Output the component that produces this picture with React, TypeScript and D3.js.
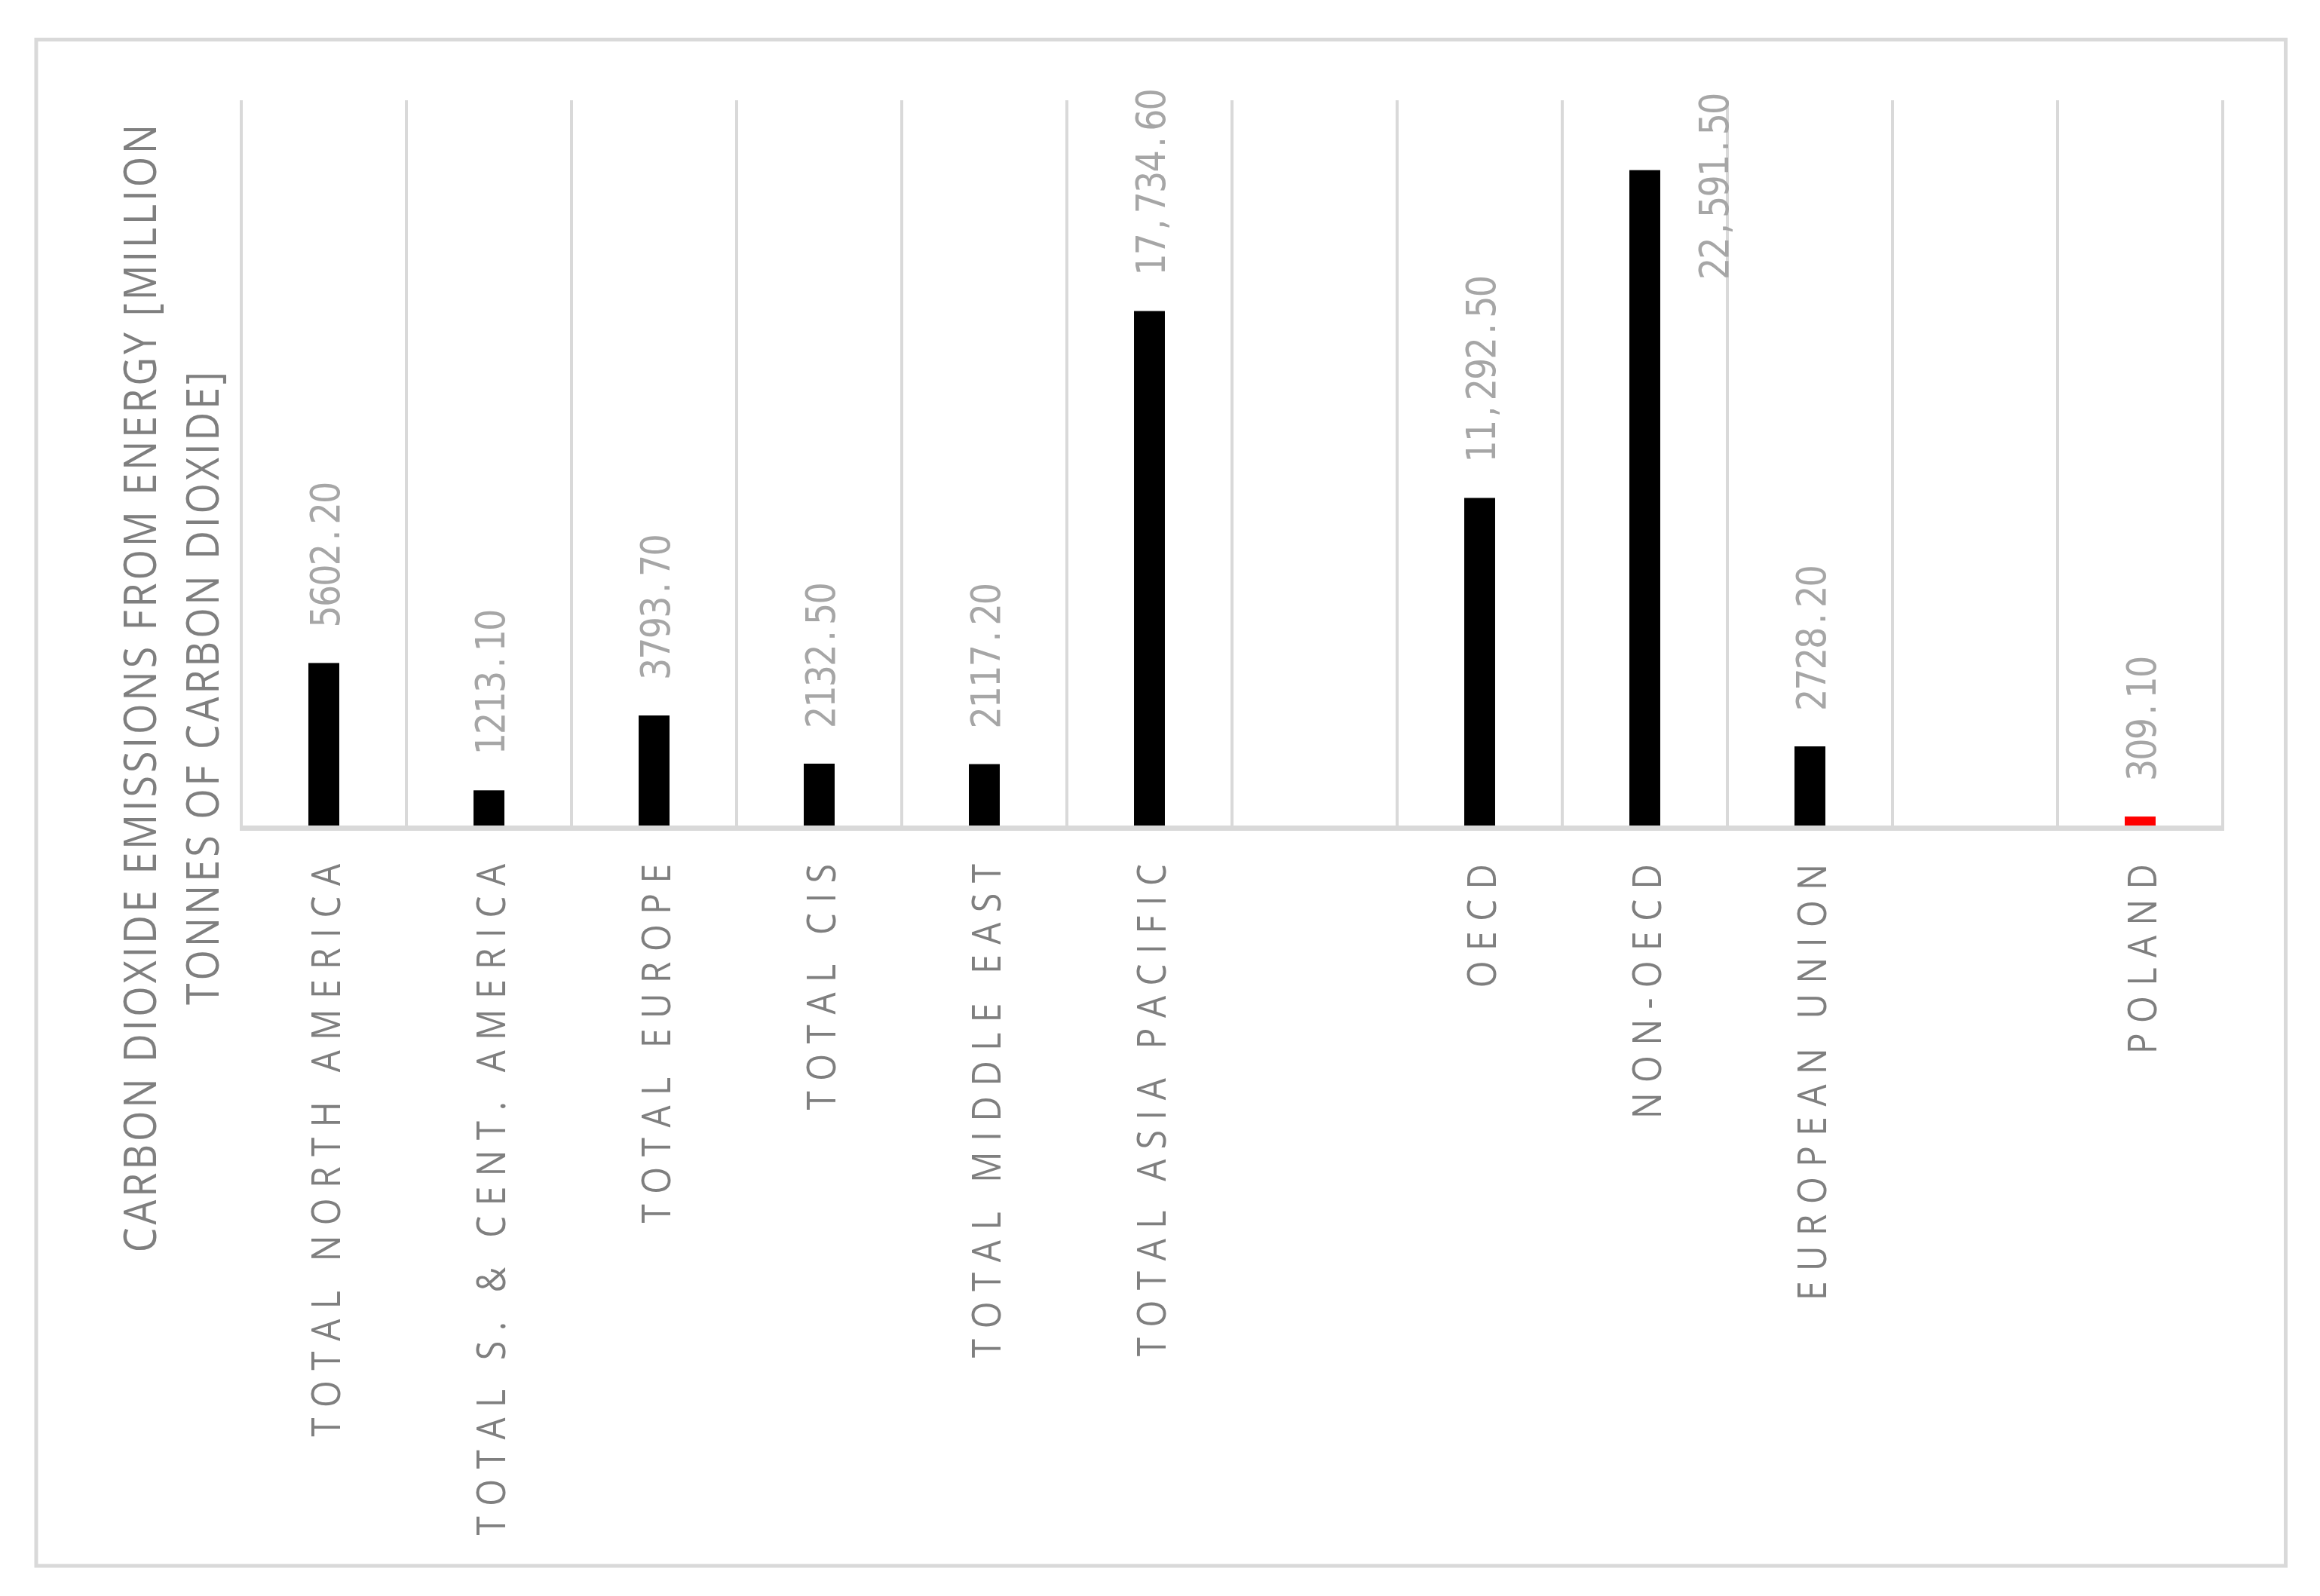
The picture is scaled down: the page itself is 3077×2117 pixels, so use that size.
import React from "react";
import * as d3 from "d3";

const categories = [
  "TOTAL NORTH AMERICA",
  "TOTAL S. & CENT. AMERICA",
  "TOTAL EUROPE",
  "TOTAL CIS",
  "TOTAL MIDDLE EAST",
  "TOTAL ASIA PACIFIC",
  "",
  "OECD",
  "NON-OECD",
  "EUROPEAN UNION",
  "",
  "POLAND",
];
const values: (number | null)[] = [5602.2, 1213.1, 3793.7, 2132.5, 2117.2, 17734.6, null, 11292.5, 22591.5, 2728.2, null, 309.1];
const valueLabels = ["5602.20", "1213.10", "3793.70", "2132.50", "2117.20", "17,734.60", "", "11,292.50", "22,591.50", "2728.20", "", "309.10"];
const highlight = [false, false, false, false, false, false, false, false, false, false, false, true];
const titleLines = ["CARBON DIOXIDE EMISSIONS FROM ENERGY [MILLION", "TONNES OF CARBON DIOXIDE]"];
const yDomain = [0, 25000];

const W = 3077;
const H = 2117;
const SX = 1.15; // horizontal stretch of text glyphs
const plot = { left: 320, right: 2948, top: 133, bottom: 1095 };
const GRID = "#d9d9d9";

export default function App() {
  const x = d3
    .scaleBand<string>()
    .domain(categories.map((_, i) => String(i)))
    .range([plot.left, plot.right])
    .paddingInner(0)
    .paddingOuter(0);
  const y = d3.scaleLinear().domain(yDomain).range([plot.bottom, plot.top]);
  const bw = x.bandwidth();
  const barW = bw * 0.187;
  const labelFs = 46;
  const labelAdv = 27.4;
  const gap = 47;
  const catFs = 46;
  const catLs = 13.5;
  const titleFs = 52;
  const titleLs = 4;

  const rot = (px: number, py: number, s = SX) => `translate(${px},${py}) scale(${s},1) rotate(-90)`;

  const monoText = (key: string, str: string, px: number, py: number, endAnchored: boolean) => {
    const chars = str.split("");
    const len = (chars.length - 1) * labelAdv + labelFs * 0.52;
    const off = endAnchored ? -len : 0;
    return (
      <text key={key} transform={rot(px, py)} fontFamily="DejaVu Sans" fontSize={labelFs} fill="#a6a6a6">
        {chars.map((ch, j) => {
          const narrow = ch === "." || ch === ",";
          return (
            <tspan key={j} x={off + j * labelAdv + (narrow ? labelFs * 0.12 : 0)} y={0}>
              {ch}
            </tspan>
          );
        })}
      </text>
    );
  };

  return (
    <svg width={W} height={H} style={{ position: "absolute", left: 0, top: 0, background: "#fff" }}>
      <rect x={0} y={0} width={W} height={H} fill="#fff" />
      <rect x={48} y={52.5} width={2983.5} height={2024.5} fill="none" stroke={GRID} strokeWidth={5} />
      {d3.range(categories.length + 1).map((i) => {
        const gx = plot.left + i * bw;
        return <line key={"g" + i} x1={gx} x2={gx} y1={plot.top} y2={plot.bottom} stroke={GRID} strokeWidth={4} />;
      })}
      {values.map((v, i) =>
        v == null ? null : (
          <rect
            key={"b" + i}
            x={(x(String(i)) as number) + bw / 2 - barW / 2}
            y={y(v)}
            width={barW}
            height={y(0) - y(v)}
            fill={highlight[i] ? "#ff0000" : "#000000"}
          />
        )
      )}
      <line x1={plot.left - 2} x2={plot.right + 2} y1={plot.bottom + 3.5} y2={plot.bottom + 3.5} stroke={GRID} strokeWidth={7} />
      {values.map((v, i) => {
        if (v == null) return null;
        const cx = (x(String(i)) as number) + bw / 2;
        const len = valueLabels[i].length * labelAdv;
        const start = y(v) - gap;
        const fits = start - len >= plot.top - 25;
        if (fits) return monoText("l" + i, valueLabels[i], cx + 20, start, false);
        return monoText("l" + i, valueLabels[i], cx + bw * 0.42 + 19, plot.top - 5, true);
      })}
      {categories.map((c, i) => {
        if (!c) return null;
        const cx = (x(String(i)) as number) + bw / 2;
        return (
          <text key={"c" + i} transform={rot(cx + 21, 1146 - catLs)} fontFamily="Open Sans" fontSize={catFs} letterSpacing={catLs} fill="#7f7f7f" textAnchor="end">
            {c}
          </text>
        );
      })}
      {titleLines.map((t, i) => (
        <text key={"t" + i} transform={rot(207 + i * 83, 909 + titleLs / 2)} fontFamily="Open Sans" fontSize={titleFs} letterSpacing={titleLs} fill="#7f7f7f" textAnchor="middle">
          {t}
        </text>
      ))}
    </svg>
  );
}
